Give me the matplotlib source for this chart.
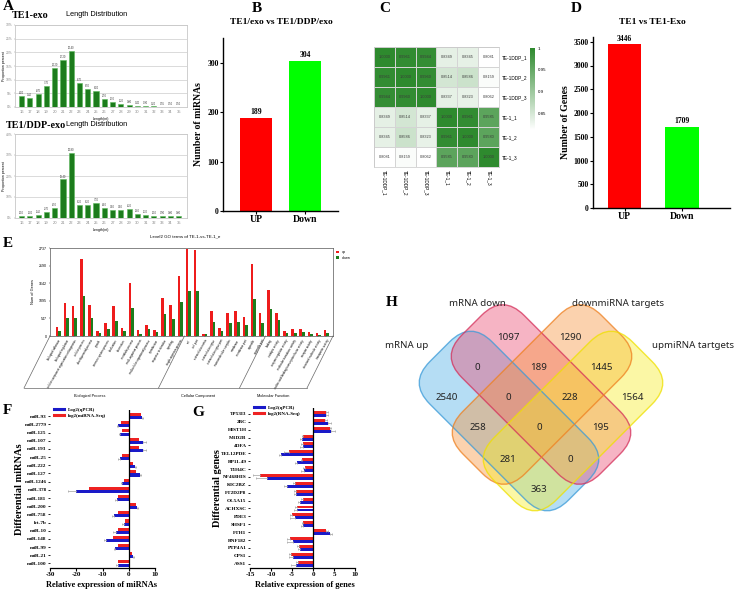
import numpy as np
import matplotlib
matplotlib.use('Agg')
import matplotlib.pyplot as plt
from matplotlib.patches import FancyBboxPatch, Patch
from matplotlib.lines import Line2D
from matplotlib.colors import LinearSegmentedColormap
import matplotlib.transforms as mtransforms

# ---------------- data ----------------
lengths = list(range(16, 36))
exo_pct = [4.0, 3.4, 4.7, 7.7, 14.2, 17.2, 20.4, 8.7, 6.5, 6.0, 2.9, 1.9, 1.2, 0.8, 0.4, 0.3, 0.2, 0.15, 0.1, 0.1]
ddp_pct = [1.1, 1.0, 1.4, 2.7, 4.9, 18.4, 30.8, 6.2, 6.2, 7.3, 4.6, 3.8, 3.8, 4.2, 1.8, 1.3, 1.1, 0.9, 0.8, 0.8]

updown_labels = ['UP', 'Down']
mirna_counts = [189, 304]
gene_counts = [3446, 1709]

samples = ['TE-1DDP_1', 'TE-1DDP_2', 'TE-1DDP_3', 'TE-1_1', 'TE-1_2', 'TE-1_3']
corr = [[1.0000, 0.9961, 0.9944, 0.8349, 0.8345, 0.8081],
        [0.9961, 1.0000, 0.9960, 0.8514, 0.8586, 0.8159],
        [0.9944, 0.9960, 1.0000, 0.8337, 0.8323, 0.8062],
        [0.8349, 0.8514, 0.8337, 1.0000, 0.9961, 0.9585],
        [0.8345, 0.8586, 0.8323, 0.9961, 1.0000, 0.9580],
        [0.8081, 0.8159, 0.8062, 0.9585, 0.9580, 1.0000]]

go_terms = ['biological adhesion', 'biological regulation', 'cellular component organization or biogenesis',
            'cellular process', 'developmental process', 'growth', 'immune system process', 'localization',
            'locomotion', 'metabolic process', 'multi-organism process', 'multicellular organismal process',
            'reproduction', 'response to stimulus', 'signaling', 'single-organism process',
            'cell', 'cell part', 'extracellular matrix', 'extracellular region', 'extracellular region part',
            'macromolecular complex', 'membrane', 'membrane part', 'organelle', 'organelle part',
            'binding', 'catalytic activity', 'enzyme regulator activity', 'molecular transducer activity',
            'nucleic acid binding transcription factor activity', 'receptor activity',
            'structural molecule activity', 'transporter activity']
go_up = [271, 1030, 926, 2383, 957, 167, 416, 937, 260, 1655, 177, 333, 198, 1176, 978, 1873,
         2716, 2685, 52, 770, 250, 708, 780, 604, 2237, 718,
         1436, 728, 156, 208, 229, 125, 94, 198]
go_down = [167, 562, 562, 1249, 572, 94, 219, 468, 156, 874, 73, 229, 135, 676, 541, 1051,
           1405, 1394, 62, 447, 167, 416, 437, 354, 1145, 395,
           833, 489, 94, 94, 135, 73, 31, 94]
go_sections = ['Biological Process', 'Cellular Component', 'Molecular Function']
go_yticks = [0, 547, 1095, 1642, 2190, 2737]

mirnas = ['miR-93', 'miR-2779', 'miR-125', 'miR-107', 'miR-193', 'miR-25', 'miR-222', 'miR-127',
          'miR-1246', 'miR-378', 'miR-181', 'miR-200', 'miR-758', 'let-7b', 'miR-10', 'miR-148',
          'miR-99', 'miR-21', 'miR-100']
mir_qpcr = [5.0, -4.0, -3.5, 5.5, 5.3, -3.5, 2.3, 4.3, -2.5, -20.0, -4.5, 3.0, -5.5, -2.0, -5.0, -8.5, -5.2, 1.8, -4.2]
mir_qpcr_err = [0.6, 0.6, 0.4, 1.0, 1.2, 0.5, 0.3, 0.5, 0.4, 3.0, 0.6, 0.6, 1.0, 0.4, 1.0, 1.0, 0.6, 0.3, 0.8]
mir_seq = [4.5, -3.0, -2.5, 3.8, 4.0, -2.5, 1.8, 2.8, -1.8, -15.0, -4.0, 2.8, -4.0, -1.5, -4.0, -6.0, -4.2, 1.2, -4.0]

genes = ['TP53I3', '2BC', 'HIST1H', 'M1D2B', '4DFA', 'TEL12PDE', 'RP11-49', 'T1H4C', 'NF468HIS',
         'KIC2BZ', 'FT2D2P8', 'OL5A15', 'ACHXSC', 'PDE3', 'SHSF1', 'FTH1', 'RNF182', 'PTP4A1', 'CPS1', 'ASS1']
gene_qpcr = [3.0, 3.6, 4.4, -2.6, -2.4, -7.7, -3.8, -2.2, -11.0, -6.3, -4.0, -3.0, -3.8, -4.4, -2.4, 4.1, -4.8, -3.0, -4.8, -4.1]
gene_qpcr_err = [0.5, 0.6, 0.9, 0.6, 0.6, 0.3, 0.5, 0.6, 2.5, 0.7, 0.5, 0.5, 0.7, 1.1, 0.4, 0.5, 1.4, 0.6, 1.0, 1.1]
gene_seq = [3.2, 2.9, 4.0, -2.4, -2.5, -5.6, -2.6, -2.0, -12.7, -4.3, -4.0, -2.5, -3.8, -4.9, -2.4, 3.0, -5.4, -3.3, -5.2, -3.6]
gene_seq_err = [0.3, 0.4, 0.4, 0.3, 0.3, 1.4, 0.3, 0.3, 1.5, 0.4, 0.5, 0.3, 0.5, 0.6, 0.3, 0.5, 0.9, 0.4, 0.6, 0.4]

venn_sets = ['mRNA up', 'mRNA down', 'downmiRNA targets', 'upmiRNA tartgets']
venn_regions = ['A', 'B', 'C', 'D', 'AB', 'BC', 'CD', 'ABC', 'BCD', 'AC', 'ABCD', 'BD', 'ACD', 'ABD', 'AD']
venn_counts = [2540, 1097, 1290, 1564, 0, 189, 1445, 0, 228, 258, 0, 195, 281, 0, 363]

# ---------------- layout helpers ----------------
W, H = 740, 590
fig = plt.figure(figsize=(W / 100, H / 100), dpi=100)
SERIF = 'Liberation Serif'
SANS = 'Liberation Sans'


def add_ax(l, t, r, b):
    return fig.add_axes([l / W, 1 - b / H, (r - l) / W, (b - t) / H])


def ftxt(x, y, s, **kw):
    kw.setdefault('ha', 'left')
    kw.setdefault('va', 'center')
    return fig.text(x / W, 1 - y / H, s, **kw)


def panel_letter(x, y, s):
    ftxt(x, y, s, fontsize=11, fontweight='bold', family=SERIF)


# ---------------- Panel A ----------------
def length_panel(box, vals, ymax, ystep, title_y, name, name_x):
    ax = add_ax(*box)
    ax.bar(lengths, vals, width=0.62, color='#1c7c1c', edgecolor='#5cb85c', linewidth=0.4, zorder=3)
    ax.set_xlim(15.2, 36.0)
    ax.set_ylim(0, ymax)
    ax.set_yticks(range(0, ymax + 1, ystep))
    ax.set_yticklabels([f'{v}%' for v in range(0, ymax + 1, ystep)], fontsize=2.4, color='#555555', family=SANS)
    ax.set_xticks(lengths)
    ax.set_xticklabels([str(v) for v in lengths], fontsize=3.0, color='#444444', family=SANS)
    ax.tick_params(length=1, width=0.3, pad=1, colors='#888888')
    ax.grid(axis='y', color='#d5d5d5', lw=0.6, zorder=0)
    for s in ax.spines.values():
        s.set_color('#c8c8c8')
        s.set_linewidth(0.6)
    for x, v in zip(lengths, vals):
        ax.text(x, v + ymax * 0.01, f'{v:.2f}', ha='center', va='bottom', fontsize=1.8, color='#333333', family=SANS)
    ax.set_xlabel('Length(nt)', fontsize=2.6, labelpad=2, family=SANS)
    ftxt(4, (box[1] + box[3]) / 2, 'Proportion percent', fontsize=2.6, family=SANS, rotation=90, ha='center')
    ftxt(name_x, title_y, name, fontsize=7.3, fontweight='bold', family=SERIF)
    ftxt(97, title_y - 1, 'Length Distribution', fontsize=5.3, family=SANS, ha='center')


panel_letter(3, 6, 'A')
length_panel((15, 25, 187, 107), exo_pct, 30, 5, 15, 'TE1-exo', 12)
length_panel((15, 134, 187, 218), ddp_pct, 40, 10, 125, 'TE1/DDP-exo', 6)


# ---------------- Panels B / D ----------------
def updown_panel(box, vals, ymax, yticks, xlim, ylabel, title, title_x, width):
    ax = add_ax(*box)
    x = np.arange(len(vals))
    ax.bar(x, vals, width=width, color=['#ff0000', '#00ff00'])
    ax.set_xlim(*xlim)
    ax.set_ylim(0, ymax)
    ax.set_yticks(yticks)
    ax.set_yticklabels([str(v) for v in yticks], fontsize=5.5, fontweight='bold', family=SERIF)
    ax.set_xticks(x)
    ax.set_xticklabels(updown_labels, fontsize=7, fontweight='bold', family=SERIF)
    ax.tick_params(length=2, width=0.8, pad=1)
    for s in ['top', 'right']:
        ax.spines[s].set_visible(False)
    for s in ['left', 'bottom']:
        ax.spines[s].set_linewidth(1.0)
    for xi, v in zip(x, vals):
        ax.text(xi, v + ymax * 0.008, str(v), ha='center', va='bottom', fontsize=5.5, fontweight='bold', family=SERIF)
    ax.set_ylabel(ylabel, fontsize=7, fontweight='bold', family=SERIF, labelpad=3)
    ftxt(title_x, 22, title, fontsize=6.8, fontweight='bold', family=SERIF, ha='center')
    return ax


panel_letter(252, 8, 'B')
updown_panel((223, 38, 338, 211), mirna_counts, 350, [0, 100, 200, 300], (-0.666, 1.662),
             'Number of miRNAs', 'TE1/exo vs TE1/DDP/exo', 281, 0.65)
panel_letter(571, 8, 'D')
updown_panel((593, 37, 730, 208), gene_counts, 3600, list(range(0, 3501, 500)), (-0.548, 1.835),
             'Number of Genes', 'TE1 vs TE1-Exo', 652, 0.58)

# ---------------- Panel C ----------------
panel_letter(379, 8, 'C')
cmap = LinearSegmentedColormap.from_list('wg', ['#ffffff', '#2e8a2e'])
vmin, vmax = 0.811, 1.0
axc = add_ax(374, 47, 499, 167)
m = np.array(corr)
axc.pcolormesh(m, cmap=cmap, vmin=vmin, vmax=vmax, edgecolors='#d4d4d4', linewidth=0.4)
axc.set_xlim(0, 6)
axc.set_ylim(6, 0)
for i in range(6):
    for j in range(6):
        axc.text(j + 0.5, i + 0.5, f'{m[i, j]:.4f}', ha='center', va='center', fontsize=2.8,
                 color='#3a3a3a', family=SANS)
axc.yaxis.tick_right()
axc.set_yticks(np.arange(6) + 0.5)
axc.set_yticklabels(samples, fontsize=3.4, family=SANS)
axc.set_xticks(np.arange(6) + 0.5)
axc.set_xticklabels(samples, fontsize=3.4, family=SANS, rotation=270, va='top')
axc.tick_params(length=0, pad=2)
for s in axc.spines.values():
    s.set_color('#c8c8c8')
    s.set_linewidth(0.5)
cax = add_ax(530, 48, 535, 130)
grad = np.linspace(vmax, vmin, 200)[:, None]
cax.imshow(grad, cmap=cmap, vmin=vmin, vmax=vmax, aspect='auto', extent=[0, 1, vmin, vmax])
cax.set_xticks([])
cax.yaxis.tick_right()
cax.set_yticks([0.85, 0.9, 0.95, 1.0])
cax.set_yticklabels(['0.85', '0.9', '0.95', '1'], fontsize=3.2, family=SANS)
cax.tick_params(length=0, pad=2)
for s in cax.spines.values():
    s.set_visible(False)

# ---------------- Panel E ----------------
panel_letter(3, 243, 'E')
axe = add_ax(50, 248, 333, 336)
xg = np.arange(len(go_terms))
axe.bar(xg - 0.16, go_up, width=0.32, color='#ee1c1c', label='up')
axe.bar(xg + 0.16, go_down, width=0.32, color='#1d7d1d', label='down')
axe.set_xlim(-1.0, 33.8)
axe.set_ylim(0, go_yticks[-1])
axe.set_yticks(go_yticks)
axe.set_yticklabels([str(v) for v in go_yticks], fontsize=2.6, family=SANS)
axe.set_xticks(xg)
axe.set_xticklabels(go_terms, rotation=60, ha='right', rotation_mode='anchor', fontsize=2.0, family=SANS)
axe.tick_params(length=1, width=0.3, pad=1)
for s in axe.spines.values():
    s.set_linewidth(0.5)
    s.set_color('#555555')
axe.set_ylabel('Num of Genes', fontsize=2.8, family=SANS, labelpad=3)
axe.legend(loc='upper left', bbox_to_anchor=(1.005, 1.0), fontsize=2.4, frameon=False,
           handlelength=0.9, handleheight=0.6, borderaxespad=0.2)
ftxt(185, 236, 'Level2 GO terms of TE-1-vs-TE-1_e', fontsize=3.2, family=SANS, ha='center')

# ---------------- Panels F / G ----------------
BLUE = '#1a1ac8'
RED = '#ee2222'


def expr_panel(box, names, qpcr, qerr, seq, serr, xlim, xticks, leg_seq, ylabel, ylab_x, xlabel, xlab_x):
    ax = add_ax(*box)
    n = len(names)
    y = np.arange(n)
    q = np.array(qpcr)
    qe = np.array(qerr)
    qx = [np.where(q < 0, qe, 0), np.where(q > 0, qe, 0)]
    s = np.array(seq)
    ekw = dict(ecolor='#a0a0a0', elinewidth=0.5, capsize=0.8, capthick=0.5)
    if serr is not None:
        se = np.array(serr)
        sx = [np.where(s < 0, se, 0), np.where(s > 0, se, 0)]
        ax.barh(y - 0.19, s, height=0.37, color=RED, xerr=sx, error_kw=ekw)
    else:
        ax.barh(y - 0.19, s, height=0.37, color=RED)
    ax.barh(y + 0.19, q, height=0.37, color=BLUE, xerr=qx, error_kw=ekw)
    ax.axvline(0, color='black', lw=0.9)
    ax.set_ylim(n - 0.45, -0.75)
    ax.set_xlim(*xlim)
    ax.set_xticks(xticks)
    ax.set_xticklabels([str(v) for v in xticks], fontsize=5, fontweight='bold', family=SERIF)
    ax.set_yticks(y)
    ax.set_yticklabels(names, fontsize=3.8, fontweight='bold', family=SERIF)
    ax.tick_params(axis='y', length=1.5, width=0.6, pad=1)
    ax.tick_params(axis='x', length=2, width=0.8, pad=1)
    for sp in ['top', 'right', 'left']:
        ax.spines[sp].set_visible(False)
    ax.spines['bottom'].set_linewidth(0.9)
    handles = [Line2D([], [], color=BLUE, lw=2.2), Line2D([], [], color=RED, lw=2.2)]
    ax.legend(handles, ['Log2(qPCR)', leg_seq], loc='upper left', bbox_to_anchor=(0.02, 1.03),
              frameon=False, handlelength=2.0, labelspacing=0.3, borderaxespad=0.0,
              prop={'family': SERIF, 'size': 3.6, 'weight': 'bold'})
    ftxt(ylab_x, (box[1] + box[3]) / 2, ylabel, fontsize=7.5, fontweight='bold', family=SERIF,
         rotation=90, ha='center')
    ftxt(xlab_x, 585, xlabel, fontsize=6, fontweight='bold', family=SERIF, ha='center')
    return ax


panel_letter(3, 410, 'F')
expr_panel((50, 410, 155, 568), mirnas, mir_qpcr, mir_qpcr_err, mir_seq, None, (-30, 10),
           [-30, -20, -10, 0, 10], 'log2(miRNA-Seq)', 'Differential miRNAs', 20,
           'Relative expression of miRNAs', 101)
panel_letter(192, 412, 'G')
expr_panel((250, 408, 355, 568), genes, gene_qpcr, gene_qpcr_err, gene_seq, gene_seq_err, (-15, 10),
           [-15, -10, -5, 0, 5, 10], 'log2(RNA-Seq)', 'Differential genes', 218,
           'Relative expression of genes', 305)

# ---------------- overlay (pixel coords): GO brackets + Venn ----------------
ov = fig.add_axes([0, 0, 1, 1])
ov.set_xlim(0, W)
ov.set_ylim(H, 0)
ov.axis('off')

# GO section brackets
bounds = [50, 184.5, 265.5, 333]
for b in bounds:
    ov.plot([b, b - 26], [336, 388], color='#666666', lw=0.5)
ov.plot([24, 307], [388, 388], color='#666666', lw=0.5)
for name, xs in zip(go_sections, [90, 198, 273]):
    ov.text(xs, 396, name, fontsize=2.8, family=SANS, ha='center', va='center')

# Venn
panel_letter(386, 302, 'H')
L, Wd, R = 196, 88, 30
shapes = [  # (cx, cy, angle, face, edge)
    (509, 421, 45, '#4fb0e6', '#3a9ad8'),
    (541, 394.5, 45, '#ea4d74', '#d42f5a'),
    (542, 394.5, -45, '#f7953e', '#ee8020'),
    (573, 421, -45, '#f7ec2a', '#efe000'),
]
for cx, cy, ang, fc, ec in shapes:
    p = FancyBboxPatch((cx - L / 2 + R, cy - Wd / 2 + R), L - 2 * R, Wd - 2 * R,
                       boxstyle=f'round,pad={R}', facecolor=fc, edgecolor='none', alpha=0.42)
    p.set_transform(mtransforms.Affine2D().rotate_deg_around(cx, cy, ang) + ov.transData)
    ov.add_patch(p)
for cx, cy, ang, fc, ec in shapes:
    p = FancyBboxPatch((cx - L / 2 + R, cy - Wd / 2 + R), L - 2 * R, Wd - 2 * R,
                       boxstyle=f'round,pad={R}', facecolor='none', edgecolor=ec, lw=1.0, alpha=0.75)
    p.set_transform(mtransforms.Affine2D().rotate_deg_around(cx, cy, ang) + ov.transData)
    ov.add_patch(p)

region_pos = {'A': (447, 397), 'B': (508, 337), 'C': (570, 337), 'D': (632, 397),
              'AB': (477, 367), 'BC': (539, 367), 'CD': (601, 367), 'ABC': (508, 397),
              'BCD': (570, 397), 'AC': (478, 428), 'ABCD': (539, 428), 'BD': (601, 428),
              'ACD': (508, 459), 'ABD': (570, 459), 'AD': (539, 489)}
for reg, cnt in zip(venn_regions, venn_counts):
    x, y = region_pos[reg]
    ov.text(x, y, str(cnt), fontsize=7, family='Noto Sans', ha='center', va='center', color='#222222')
set_label_pos = [(407, 345), (477, 304), (618, 304), (693, 345)]
for name, (x, y) in zip(venn_sets, set_label_pos):
    ov.text(x, y, name, fontsize=7, family='Noto Sans', ha='center', va='center', color='#222222')

fig.savefig('out.png', dpi=100)
